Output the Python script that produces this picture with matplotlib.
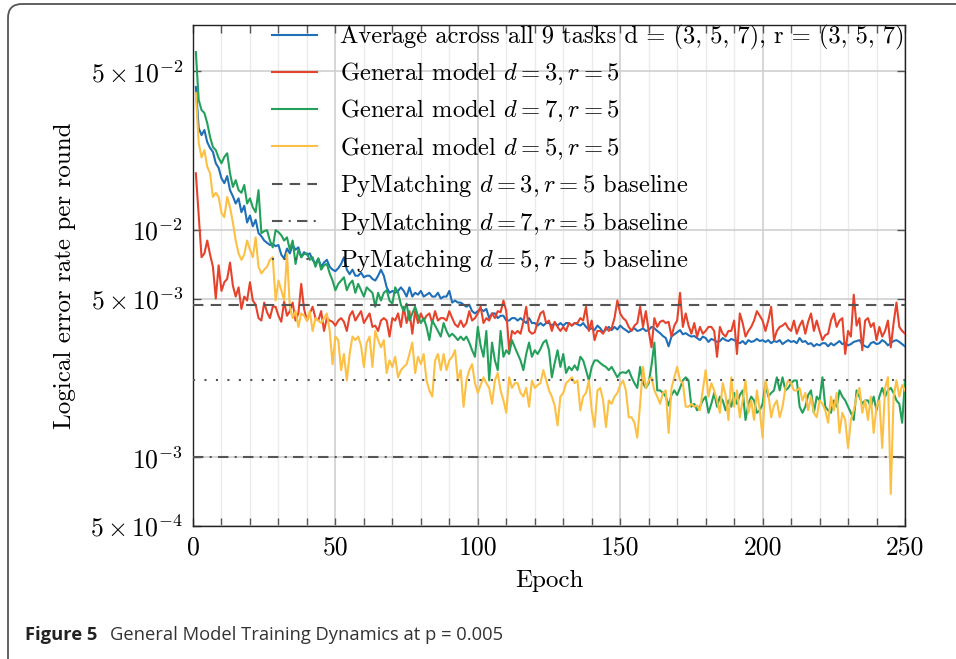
import matplotlib
matplotlib.use('Agg')
import matplotlib.pyplot as plt
import numpy as np
from matplotlib.patches import FancyBboxPatch
from matplotlib.transforms import IdentityTransform
from matplotlib.ticker import NullLocator, FixedLocator

plt.rcParams.update({
    'font.family': 'serif',
    'font.serif': ['cmr10'],
    'mathtext.fontset': 'cm',
    'axes.unicode_minus': False,
    'axes.formatter.use_mathtext': True,
})

# ---------------- data (logical error rate per round, in units of 1e-3) ----------------
SCALE = 1e-3
epochs = list(range(1, 251))

avg_all = [
    42.7, 28.1, 26.2, 27.6, 24.4, 23.0, 22.1, 19.7, 18.8, 16.9,
    16.1, 17.3, 15.0, 14.1, 13.1, 13.8, 12.0, 12.8, 10.8, 11.6,
    10.4, 11.1, 9.7, 9.4, 9.0, 8.8, 8.6, 8.7, 8.5, 8.6,
    7.8, 7.5, 8.3, 7.9, 8.6, 8.2, 8.4, 7.6, 8.0, 7.8,
    7.9, 7.4, 7.1, 7.5, 6.9, 7.2, 7.4, 6.9, 6.7, 6.6,
    6.8, 7.1, 7.6, 6.7, 6.4, 6.7, 6.3, 6.3, 6.5, 6.2,
    6.3, 6.3, 6.1, 6.0, 6.3, 6.7, 6.3, 5.6, 5.3, 5.4,
    5.3, 5.4, 5.6, 5.4, 5.1, 5.6, 5.1, 5.3, 5.2, 5.4,
    5.1, 5.2, 5.3, 5.1, 5.1, 5.3, 5.0, 5.1, 5.1, 5.4,
    4.8, 4.9, 4.8, 4.8, 4.7, 4.6, 4.7, 4.4, 4.3, 4.4,
    4.5, 4.4, 4.5, 4.1, 4.3, 4.3, 4.1, 4.2, 4.2, 4.0,
    4.0, 4.1, 4.1, 4.0, 4.1, 4.0, 3.9, 4.1, 3.9, 3.9,
    3.8, 3.9, 3.8, 3.9, 3.9, 3.8, 3.9, 3.8, 3.9, 3.8,
    3.9, 3.9, 3.8, 3.9, 3.85, 3.8, 3.9, 3.75, 3.65, 3.7,
    3.63, 3.8, 3.7, 3.55, 3.65, 3.75, 3.63, 3.75, 3.65, 3.8,
    3.7, 3.63, 3.55, 3.63, 3.7, 3.6, 3.63, 3.7, 3.6, 3.63,
    3.75, 3.7, 3.6, 3.52, 3.42, 3.35, 3.08, 3.4, 3.48, 3.55,
    3.63, 3.48, 3.52, 3.45, 3.4, 3.42, 3.35, 3.28, 3.4, 3.35,
    3.22, 3.32, 3.28, 3.22, 3.25, 3.35, 3.28, 3.25, 3.32, 3.28,
    3.22, 3.18, 3.25, 3.15, 3.28, 3.22, 3.25, 3.32, 3.25, 3.28,
    3.22, 3.28, 3.18, 3.25, 3.22, 3.28, 3.15, 3.22, 3.28, 3.22,
    3.25, 3.18, 3.35, 3.22, 3.25, 3.15, 3.18, 3.08, 3.15, 3.11,
    3.18, 3.18, 3.08, 3.18, 3.11, 3.18, 3.25, 3.15, 3.18, 3.11,
    3.15, 3.22, 3.25, 3.28, 3.15, 3.08, 3.05, 3.18, 3.22, 3.15,
    3.18, 3.28, 3.22, 3.11, 3.18, 3.25, 3.28, 3.22, 3.15, 3.08,
]

gen_d3 = [
    17.8, 11.6, 7.6, 7.9, 9.0, 7.8, 6.9, 5.0, 7.0, 5.4,
    5.9, 6.1, 7.2, 5.7, 5.1, 5.6, 4.5, 5.1, 4.9, 5.9,
    4.9, 4.7, 4.1, 4.0, 4.8, 4.35, 4.1, 4.6, 4.6, 4.2,
    3.95, 4.85, 4.2, 4.4, 4.8, 4.0, 4.3, 5.8, 4.5, 4.0,
    4.3, 4.6, 4.1, 4.0, 4.4, 3.6, 4.1, 4.0, 3.95, 3.8,
    4.0, 4.1, 3.95, 3.6, 4.2, 4.4, 4.0, 4.2, 4.4, 3.9,
    4.1, 4.3, 3.75, 3.8, 3.6, 4.0, 4.1, 4.0, 3.4, 4.1,
    4.0, 4.3, 3.75, 4.6, 3.9, 4.4, 3.5, 4.4, 3.9, 4.3,
    4.0, 4.2, 4.3, 3.9, 4.4, 4.0, 4.1, 4.1, 4.0, 4.4,
    4.1, 3.85, 3.75, 4.0, 3.75, 3.9, 4.4, 4.0, 4.1, 4.3,
    4.6, 3.9, 4.1, 4.0, 4.3, 4.1, 4.4, 4.35, 4.9, 4.4,
    2.96, 3.6, 3.5, 3.6, 3.5, 3.95, 4.6, 3.6, 3.5, 3.55,
    3.95, 4.3, 4.4, 3.9, 4.0, 3.6, 3.95, 3.75, 3.6, 3.75,
    3.6, 3.9, 3.8, 3.9, 3.9, 4.1, 4.0, 4.6, 3.6, 4.0,
    3.28, 3.6, 3.6, 3.5, 3.75, 3.6, 3.7, 4.1, 4.9, 4.3,
    4.1, 4.0, 3.75, 3.6, 3.8, 3.9, 4.6, 3.75, 4.4, 3.6,
    3.05, 4.1, 3.75, 3.95, 4.0, 3.9, 3.95, 3.4, 3.8, 4.0,
    5.3, 3.75, 4.3, 3.8, 3.5, 3.9, 3.4, 3.75, 3.5, 3.6,
    3.75, 3.75, 3.6, 2.77, 3.75, 3.5, 3.4, 3.6, 3.6, 4.0,
    2.85, 4.3, 3.9, 3.4, 3.6, 3.75, 4.0, 4.4, 4.2, 4.0,
    3.6, 4.0, 4.6, 3.28, 3.6, 3.75, 3.8, 3.9, 3.7, 3.6,
    4.0, 3.5, 3.8, 4.0, 3.5, 3.95, 4.3, 3.6, 4.0, 3.6,
    3.28, 3.45, 3.5, 4.0, 4.3, 3.75, 4.0, 4.1, 2.85, 3.6,
    3.4, 5.2, 3.8, 4.1, 2.96, 4.0, 4.1, 3.75, 3.9, 3.28,
    3.75, 3.4, 3.6, 4.0, 3.05, 3.9, 4.8, 3.75, 3.6, 3.5,
]

gen_d7 = [
    60.8, 37.4, 33.8, 32.8, 29.6, 25.7, 23.2, 22.5, 20.8, 19.7,
    21.0, 21.8, 17.8, 15.5, 16.6, 15.0, 14.6, 15.8, 13.1, 13.8,
    12.6, 12.0, 15.0, 9.7, 9.9, 10.0, 9.0, 8.4, 10.0, 9.8,
    9.5, 9.0, 9.3, 8.2, 9.0, 7.1, 8.2, 7.6, 7.85, 7.9,
    7.4, 7.6, 6.9, 7.5, 6.7, 7.0, 7.1, 6.45, 6.0, 5.44,
    5.8, 6.0, 6.2, 5.44, 5.8, 6.0, 5.3, 5.8, 5.44, 5.1,
    5.6, 5.44, 5.3, 4.6, 5.3, 4.9, 5.3, 5.44, 4.9, 4.75,
    5.6, 5.3, 4.7, 4.4, 4.75, 4.0, 4.3, 4.6, 4.2, 3.9,
    4.1, 3.75, 3.28, 4.0, 3.8, 3.6, 3.4, 3.9, 3.6, 3.4,
    3.5, 3.4, 3.28, 3.4, 3.28, 3.4, 3.2, 2.96, 2.77, 3.75,
    3.1, 2.77, 3.6, 2.18, 3.2, 2.67, 2.42, 3.6, 2.77, 2.96,
    2.85, 3.28, 3.05, 2.85, 2.67, 2.42, 2.85, 3.2, 2.77, 2.96,
    2.85, 3.0, 3.2, 3.28, 2.96, 2.25, 2.6, 2.96, 2.5, 2.85,
    2.35, 2.5, 2.42, 2.54, 2.42, 2.77, 2.67, 2.42, 2.18, 2.5,
    2.67, 2.67, 2.6, 2.54, 2.5, 2.42, 2.5, 2.37, 2.25, 2.35,
    2.37, 2.35, 2.42, 2.25, 2.12, 2.02, 2.5, 2.12, 2.02, 2.12,
    2.54, 3.2, 1.97, 1.97, 1.92, 1.85, 1.69, 1.88, 1.97, 1.88,
    2.02, 2.18, 2.25, 2.18, 1.67, 1.72, 1.61, 1.67, 1.78, 1.85,
    1.57, 1.72, 1.92, 1.67, 1.85, 1.78, 1.61, 1.78, 1.67, 1.92,
    1.72, 1.88, 1.97, 1.46, 1.72, 1.85, 1.78, 1.57, 1.61, 1.72,
    2.12, 1.85, 1.92, 1.97, 2.25, 1.97, 2.25, 1.97, 2.02, 2.12,
    2.18, 2.18, 1.67, 1.57, 1.67, 1.88, 1.97, 1.57, 1.85, 1.78,
    2.25, 1.67, 1.61, 1.57, 1.78, 1.67, 1.97, 1.85, 1.78, 1.67,
    1.57, 1.46, 1.97, 1.85, 1.72, 1.78, 1.78, 1.67, 1.85, 1.61,
    1.85, 2.02, 1.85, 1.97, 2.02, 1.92, 1.78, 1.72, 1.42, 2.18,
]

gen_d5 = [
    40.1, 24.2, 20.9, 22.5, 19.0, 17.8, 14.0, 14.6, 14.0, 11.9,
    11.4, 14.0, 12.6, 10.8, 9.0, 7.9, 7.4, 7.8, 9.0, 8.2,
    7.6, 9.3, 6.9, 6.45, 6.7, 6.9, 7.4, 7.6, 4.9, 6.0,
    5.44, 4.9, 7.9, 4.6, 4.1, 4.4, 3.75, 4.3, 4.2, 4.0,
    4.4, 3.6, 4.1, 4.0, 3.9, 4.1, 4.3, 3.6, 2.57, 3.4,
    3.28, 2.42, 2.85, 2.18, 2.85, 3.4, 3.28, 3.4, 3.1, 2.5,
    3.2, 3.4, 2.5, 3.6, 3.28, 3.05, 3.28, 2.35, 2.67, 2.5,
    2.77, 2.25, 2.42, 2.5, 2.57, 2.85, 3.2, 2.35, 2.77, 2.57,
    2.85, 2.18, 1.97, 1.85, 2.67, 2.85, 2.42, 2.85, 2.42, 2.67,
    2.77, 2.96, 2.18, 2.42, 1.67, 2.18, 2.42, 2.57, 2.12, 1.92,
    2.08, 2.25, 2.12, 2.02, 1.72, 2.18, 2.35, 1.97, 1.78, 1.57,
    2.25, 2.02, 2.12, 2.12, 1.92, 1.85, 2.02, 1.67, 2.18, 2.02,
    2.08, 2.12, 2.42, 2.18, 1.97, 1.85, 1.69, 1.38, 1.85, 1.92,
    2.12, 2.18, 2.25, 2.12, 2.18, 1.61, 1.85, 1.92, 2.18, 1.61,
    1.36, 1.97, 2.02, 1.78, 1.36, 1.78, 1.72, 1.85, 1.92, 2.08,
    2.18, 1.97, 1.5, 1.5, 1.42, 1.22, 1.72, 2.5, 2.02, 2.18,
    2.25, 1.97, 1.85, 1.72, 1.92, 1.97, 1.28, 2.02, 2.25, 2.5,
    2.18, 2.12, 1.67, 1.67, 1.72, 1.67, 1.69, 1.61, 1.97, 2.42,
    1.85, 2.12, 1.97, 1.78, 1.57, 2.12, 1.88, 1.46, 2.25, 1.67,
    1.97, 1.5, 1.78, 2.18, 1.57, 1.78, 1.46, 1.97, 1.61, 1.22,
    2.18, 1.92, 1.5, 1.69, 1.78, 1.5, 1.67, 2.02, 2.18, 2.12,
    1.97, 1.97, 2.02, 1.78, 1.92, 1.61, 1.85, 1.57, 1.5, 1.78,
    1.72, 1.61, 1.42, 1.85, 1.61, 1.92, 1.28, 1.57, 1.46, 1.1,
    1.46, 1.61, 1.85, 2.02, 1.57, 1.78, 1.46, 1.85, 1.28, 1.67,
    1.78, 1.1, 2.02, 2.25, 0.69, 1.85, 2.18, 1.85, 2.08, 1.97,
]

baseline_d3 = 4.7
baseline_d7 = 1.0
baseline_d5 = 2.2

series_labels = [
    "Average across all 9 tasks d = (3, 5, 7), r = (3, 5, 7)",
    r"General model $d = 3, r = 5$",
    r"General model $d = 7, r = 5$",
    r"General model $d = 5, r = 5$",
]
baseline_labels = [
    r"PyMatching $d = 3, r = 5$ baseline",
    r"PyMatching $d = 7, r = 5$ baseline",
    r"PyMatching $d = 5, r = 5$ baseline",
]
ytick_vals = [5e-4, 1e-3, 5e-3, 1e-2, 5e-2]
ytick_labels = [r"$5\times10^{-4}$", r"$10^{-3}$", r"$5\times10^{-3}$",
                r"$10^{-2}$", r"$5\times10^{-2}$"]
xtick_vals = [0, 50, 100, 150, 200, 250]

# ---------------- figure ----------------
W, H = 956, 659
fig = plt.figure(figsize=(W / 100, H / 100), dpi=100)
fig.patch.set_facecolor('white')

# rounded frame
frame = FancyBboxPatch((8, -20), 980, 20 + H - 4,
                       boxstyle="round,pad=0,rounding_size=14",
                       transform=IdentityTransform(), facecolor='none',
                       edgecolor='#555555', linewidth=1.3)
fig.patches.append(frame)

ax = fig.add_axes([193 / W, 1 - 525.7 / H, (905 - 193) / W, (525.7 - 25) / H])

colors = ['#1f6fb8', '#e6432c', '#23a05a', '#fcc045']
all_series = [avg_all, gen_d3, gen_d7, gen_d5]
x = np.array(epochs)
for vals, c, lab in zip(all_series, colors, series_labels):
    ax.plot(x, np.array(vals) * SCALE, color=c, lw=1.5, label=lab, zorder=3)

bcol = '#555555'
ax.axhline(baseline_d3 * SCALE, color=bcol, lw=1.5, ls=(0, (5, 3.5)),
           label=baseline_labels[0], zorder=4)
ax.axhline(baseline_d7 * SCALE, color=bcol, lw=1.5, ls=(0, (5, 3, 1, 3)),
           label=baseline_labels[1], zorder=4)
ax.axhline(baseline_d5 * SCALE, color=bcol, lw=1.5, ls=(0, (1, 4.5)),
           label=baseline_labels[2], zorder=4)

ax.set_yscale('log')
ax.set_ylim(5e-4, 8e-2)
ax.set_xlim(0, 250)
ax.yaxis.set_major_locator(FixedLocator(ytick_vals))
ax.set_yticklabels(ytick_labels)
ax.yaxis.set_minor_locator(NullLocator())
ax.set_xticks(xtick_vals)
ax.set_xticklabels([str(v) for v in xtick_vals])
ax.xaxis.set_minor_locator(FixedLocator(list(range(0, 251, 10))))

ax.tick_params(which='both', direction='in', top=True, right=True,
               length=6, width=1, color='#555555', labelsize=18.5, pad=7)
ax.grid(which='major', color='#cfcfcf', lw=1.2)
ax.grid(which='minor', axis='x', color='#ebebeb', lw=1.0)
ax.set_axisbelow(True)
for s in ax.spines.values():
    s.set_color('#222222')
    s.set_linewidth(1.0)

ax.set_xlabel('Epoch', fontsize=18, labelpad=8)
ax.set_ylabel('Logical error rate per round', fontsize=18, labelpad=10)

leg = ax.legend(loc='upper right', bbox_to_anchor=(1.0, 1.0), frameon=False,
                fontsize=17.7, borderaxespad=0.0, borderpad=0.0,
                handlelength=1.85, handletextpad=0.95, labelspacing=0.43)
leg.set_zorder(5)

fig.text(25 / W, 1 - 635 / H, 'Figure 5', fontsize=13.2, fontweight='bold',
         family='Open Sans', color='#222222', va='center', ha='left')
fig.text(110 / W, 1 - 635 / H, 'General Model Training Dynamics at p = 0.005',
         fontsize=13.2, family='Open Sans', color='#333333', va='center', ha='left')

fig.savefig('out.png', dpi=100)
